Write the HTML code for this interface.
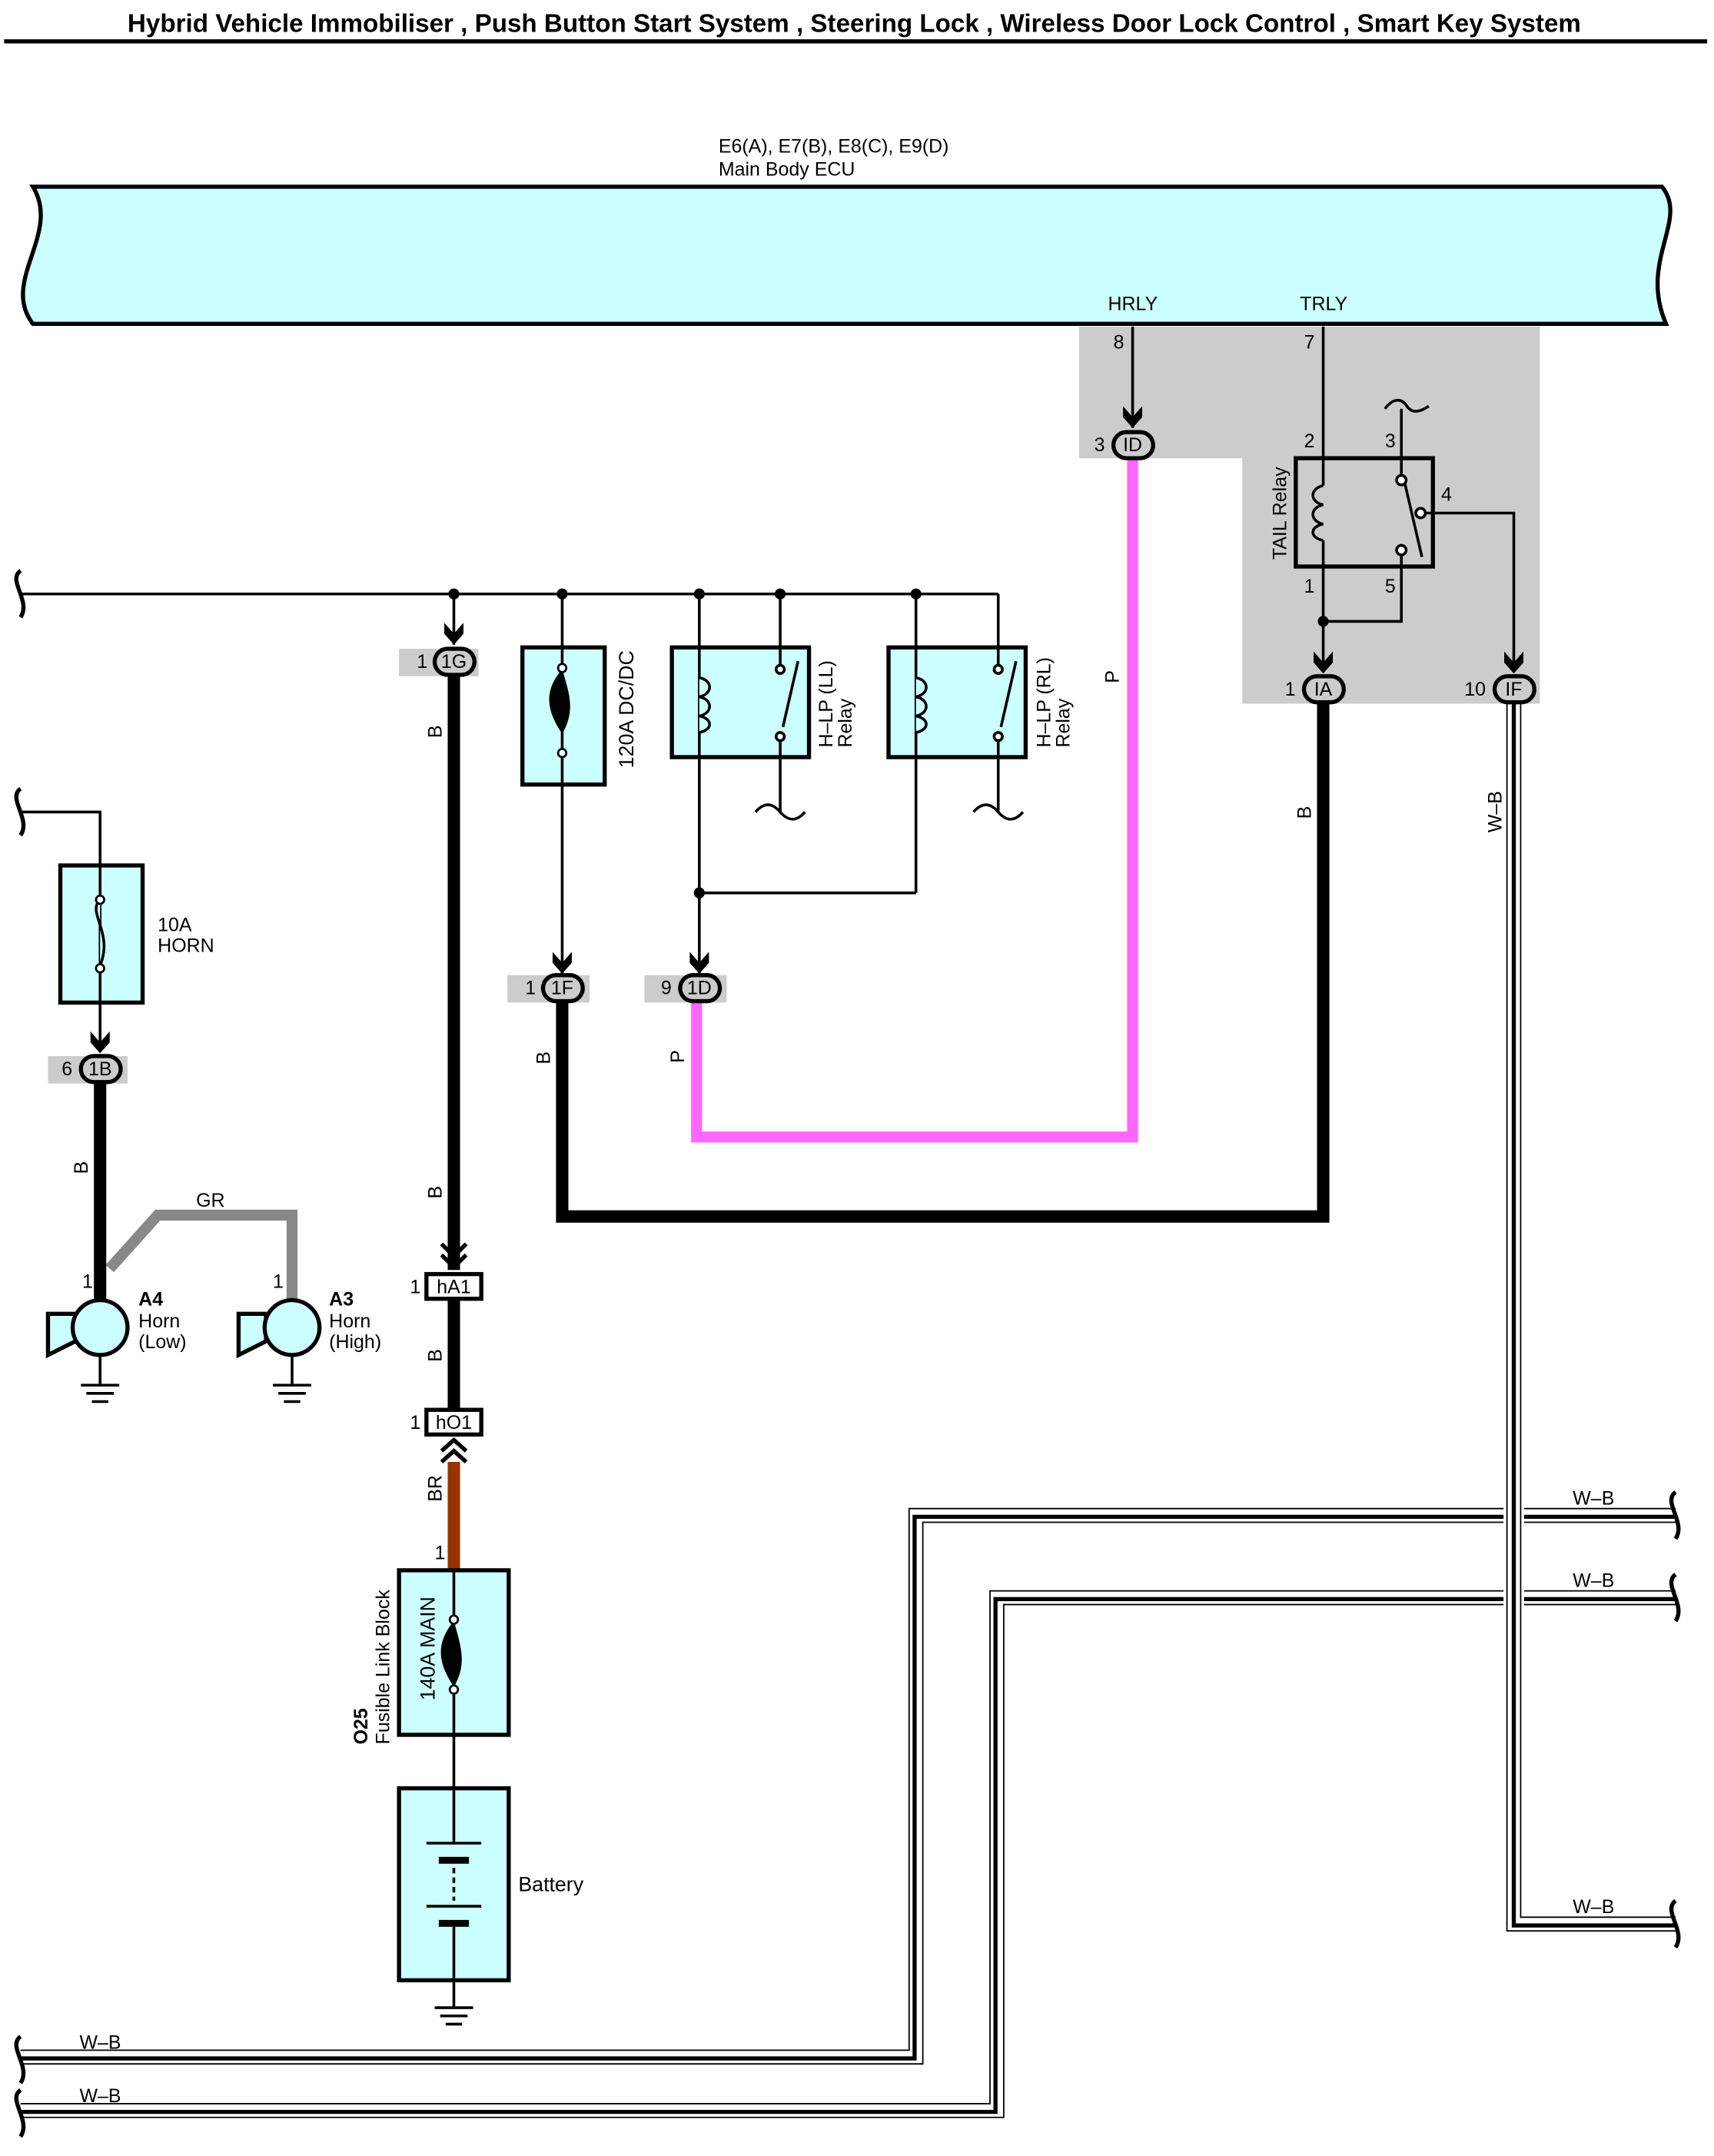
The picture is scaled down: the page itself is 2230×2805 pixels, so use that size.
<!DOCTYPE html>
<html><head><meta charset="utf-8"><style>
html,body{margin:0;padding:0;background:#fff}
svg{display:block}
text{font-family:"Liberation Sans",Arial,sans-serif;font-size:14px;fill:#000}
</style></head><body>
<svg width="2230" height="2805" viewBox="0 0 1250 1572" xmlns="http://www.w3.org/2000/svg">
<defs>
<g id="arr"><path d="M-7,-12 L0,-4 L7,-12 L7,-4 L0,4 L-7,-4 Z" fill="#000"/></g>
</defs>
<text x="623" y="23" text-anchor="middle" style="font-size:18.6px;font-weight:bold">Hybrid Vehicle Immobiliser , Push Button Start System , Steering Lock , Wireless Door Lock Control , Smart Key System</text>
<line x1="3" y1="30" x2="1245" y2="30" stroke="#000" stroke-width="3"/>

<text x="524" y="111">E6(A), E7(B), E8(C), E9(D)</text>
<text x="524" y="128">Main Body ECU</text>
<path d="M24,136 L1212,136 C1232,160 1195,190 1215,236 L24,236 C0,205 45,170 24,136 Z" fill="#ccffff" stroke="#000" stroke-width="3"/>

<!-- gray region -->
<path d="M787,238 L1123,238 L1123,513 L906,513 L906,334 L787,334 Z" fill="#cccccc"/>
<text x="808" y="226">HRLY</text><text x="948" y="226">TRLY</text>
<text x="812" y="254">8</text><text x="951" y="254">7</text>

<!-- W-B wires -->
<g fill="none">
<path d="M15,1500 L668,1500 L668,1105 L1222,1105" stroke="#000" stroke-width="11"/>
<path d="M15,1500 L668,1500 L668,1105 L1222,1105" stroke="#fff" stroke-width="9"/>
<path d="M15,1501 L667,1501 L667,1106 L1222,1106" stroke="#000" stroke-width="3"/>
<path d="M15,1539 L727,1539 L727,1165 L1222,1165" stroke="#000" stroke-width="11"/>
<path d="M15,1539 L727,1539 L727,1165 L1222,1165" stroke="#fff" stroke-width="9"/>
<path d="M15,1540 L726,1540 L726,1166 L1222,1166" stroke="#000" stroke-width="3"/>
<path d="M1104,513 L1104,1403 L1222,1403" stroke="#fff" stroke-width="15"/>
<path d="M1104,513 L1104,1403 L1222,1403" stroke="#000" stroke-width="11"/>
<path d="M1104,513 L1104,1403 L1222,1403" stroke="#fff" stroke-width="9"/>
<path d="M1104,513 L1104,1404 L1222,1404" stroke="#000" stroke-width="3"/>
</g>
<text x="1147" y="1097">W–B</text><text x="1147" y="1157">W–B</text><text x="1147" y="1395">W–B</text>
<text x="58" y="1494">W–B</text><text x="58" y="1533">W–B</text>
<text transform="translate(1095,607) rotate(-90)">W–B</text>
<g fill="none" stroke="#000" stroke-width="3">
<path d="M1222,1088 C1212,1095 1230,1110 1222,1122"/>
<path d="M1222,1148 C1212,1155 1230,1170 1222,1182"/>
<path d="M1222,1386 C1212,1393 1230,1408 1222,1420"/>
<path d="M15,1485 C5,1492 23,1507 15,1519"/>
<path d="M15,1524 C5,1531 23,1546 15,1558"/>
<path d="M15,416 C5,423 23,438 15,450"/>
<path d="M15,575 C5,582 23,597 15,609"/>
</g>

<!-- HRLY pink -->
<line x1="826" y1="238" x2="826" y2="312" stroke="#000" stroke-width="2"/>
<use href="#arr" x="826" y="308"/>
<path d="M826,334 L826,829 L508,829 L508,730" fill="none" stroke="#ff66ff" stroke-width="8"/>
<text transform="translate(816,498) rotate(-90)">P</text>
<text transform="translate(499,775) rotate(-90)">P</text>

<!-- TAIL relay -->
<rect x="945" y="334" width="100" height="79" fill="#cccccc" stroke="#000" stroke-width="3"/>
<g fill="none" stroke="#000" stroke-width="2">
<line x1="965" y1="238" x2="965" y2="354"/>
<path d="M965,354 C955,356 955,366 965,368 C955,370 955,380 965,382 C955,384 955,392 965,394"/>
<line x1="965" y1="394" x2="965" y2="490"/>
<line x1="1022" y1="298" x2="1022" y2="346"/>
<path d="M1010,298 C1016,290 1022,290 1026,296 C1030,302 1036,300 1042,296"/>
<line x1="1024" y1="350" x2="1037" y2="406"/>
<path d="M1036,374 L1104,374 L1104,490"/>
<path d="M1022,401 L1022,453 L965,453"/>
<circle cx="1022" cy="350" r="3.5" fill="#fff"/><circle cx="1036" cy="374" r="3.5" fill="#fff"/><circle cx="1022" cy="401" r="3.5" fill="#fff"/>
</g>
<circle cx="965" cy="453" r="4" fill="#000"/>
<text transform="translate(938,408) rotate(-90)">TAIL Relay</text>
<text x="951" y="326">2</text><text x="1010" y="326">3</text><text x="1051" y="365">4</text>
<text x="951" y="432">1</text><text x="1010" y="432">5</text>
<use href="#arr" x="965" y="487"/><use href="#arr" x="1104" y="487"/>

<!-- thick B IA -->
<path d="M965,513 L965,887 L410,887 L410,730" fill="none" stroke="#000" stroke-width="9"/>
<text transform="translate(956,597) rotate(-90)">B</text>
<text transform="translate(401,776) rotate(-90)">B</text>

<!-- bus -->
<g fill="none" stroke="#000" stroke-width="2">
<line x1="15" y1="433" x2="728" y2="433"/>
<line x1="728" y1="433" x2="728" y2="490"/>
<line x1="410" y1="433" x2="410" y2="710"/>
<line x1="510" y1="433" x2="510" y2="710"/>
<line x1="569" y1="433" x2="569" y2="480"/>
<line x1="668" y1="433" x2="668" y2="651"/>
<line x1="668" y1="651" x2="510" y2="651"/>
<line x1="331" y1="433" x2="331" y2="470"/>
</g>
<g fill="#000"><circle cx="331" cy="433" r="4"/><circle cx="410" cy="433" r="4"/><circle cx="510" cy="433" r="4"/><circle cx="569" cy="433" r="4"/><circle cx="668" cy="433" r="4"/><circle cx="510" cy="651" r="4"/></g>

<!-- fuse 120A -->
<rect x="381" y="472" width="60" height="100" fill="#ccffff" stroke="#000" stroke-width="3"/>
<line x1="410" y1="472" x2="410" y2="572" stroke="#000" stroke-width="2"/>
<path d="M410,488 C395,505 400,520 410,535 C420,518 415,505 410,488 Z" fill="#000"/>
<circle cx="410" cy="487" r="3" fill="#fff" stroke="#000" stroke-width="1.5"/><circle cx="410" cy="549" r="3" fill="#fff" stroke="#000" stroke-width="1.5"/>
<text transform="translate(462,560) rotate(-90)" style="font-size:15px">120A DC/DC</text>

<!-- relays LL RL -->
<g>
<rect x="490" y="472" width="100" height="80" fill="#ccffff" stroke="#000" stroke-width="3"/>
<rect x="648" y="472" width="100" height="80" fill="#ccffff" stroke="#000" stroke-width="3"/>
<g fill="none" stroke="#000" stroke-width="2">
<line x1="510" y1="472" x2="510" y2="552"/>
<path d="M510,494 C520,496 520,506 510,508 C520,510 520,520 510,522 C520,524 520,532 510,534" fill="#ccffff"/>
<line x1="668" y1="472" x2="668" y2="552"/>
<path d="M668,494 C678,496 678,506 668,508 C678,510 678,520 668,522 C678,524 678,532 668,534" fill="#ccffff"/>
<line x1="569" y1="472" x2="569" y2="486"/>
<line x1="582" y1="482" x2="571" y2="530"/>
<line x1="569" y1="538" x2="569" y2="592"/>
<path d="M551,592 C557,585 563,585 569,592 C575,599 581,599 587,592"/>
<line x1="728" y1="472" x2="728" y2="486"/>
<line x1="741" y1="482" x2="730" y2="530"/>
<line x1="728" y1="538" x2="728" y2="592"/>
<path d="M710,592 C716,585 722,585 728,592 C734,599 740,599 746,592"/>
<circle cx="569" cy="488" r="3" fill="#fff"/><circle cx="569" cy="537" r="3" fill="#fff"/>
<circle cx="728" cy="488" r="3" fill="#fff"/><circle cx="728" cy="537" r="3" fill="#fff"/>
</g>
<text transform="translate(607,545) rotate(-90)">H–LP (LL)</text>
<text transform="translate(621,545) rotate(-90)">Relay</text>
<text transform="translate(766,545) rotate(-90)">H–LP (RL)</text>
<text transform="translate(780,545) rotate(-90)">Relay</text>
</g>
<use href="#arr" x="410" y="706"/><use href="#arr" x="510" y="706"/>
<use href="#arr" x="331" y="466"/>

<!-- main thick B -->
<line x1="331" y1="492" x2="331" y2="926" stroke="#000" stroke-width="9"/>
<path d="M322,907 L331,916 L340,907 M322,915 L331,924 L340,915" fill="none" stroke="#000" stroke-width="3"/>
<text transform="translate(322,538) rotate(-90)">B</text>
<text transform="translate(322,874) rotate(-90)">B</text>
<line x1="331" y1="947" x2="331" y2="1028" stroke="#000" stroke-width="9"/>
<text transform="translate(322,993) rotate(-90)">B</text>
<rect x="311" y="929" width="40" height="18" fill="#fff" stroke="#000" stroke-width="3"/>
<text x="331" y="943" text-anchor="middle">hA1</text><text x="299" y="943">1</text>
<rect x="311" y="1028" width="40" height="18" fill="#fff" stroke="#000" stroke-width="3"/>
<text x="331" y="1042" text-anchor="middle">hO1</text><text x="299" y="1042">1</text>
<path d="M322,1058 L331,1050 L340,1058 M322,1066 L331,1058 L340,1066" fill="none" stroke="#000" stroke-width="3"/>
<line x1="331" y1="1066" x2="331" y2="1145" stroke="#993300" stroke-width="9"/>
<text transform="translate(322,1095) rotate(-90)">BR</text>
<text x="317" y="1137">1</text>

<!-- fusible link -->
<rect x="291" y="1145" width="80" height="120" fill="#ccffff" stroke="#000" stroke-width="3"/>
<line x1="331" y1="1145" x2="331" y2="1304" stroke="#000" stroke-width="2"/>
<path d="M331,1182 C316,1200 321,1215 331,1230 C341,1213 336,1200 331,1182 Z" fill="#000"/>
<circle cx="331" cy="1181" r="3" fill="#fff" stroke="#000" stroke-width="1.5"/><circle cx="331" cy="1232" r="3" fill="#fff" stroke="#000" stroke-width="1.5"/>
<text transform="translate(317,1240) rotate(-90)" style="font-size:15px">140A MAIN</text>
<text transform="translate(268,1272) rotate(-90)" style="font-weight:bold">O25</text>
<text transform="translate(284,1272) rotate(-90)">Fusible Link Block</text>

<!-- battery -->
<rect x="291" y="1304" width="80" height="140" fill="#ccffff" stroke="#000" stroke-width="3"/>
<line x1="331" y1="1304" x2="331" y2="1344" stroke="#000" stroke-width="2"/>
<line x1="311" y1="1344" x2="351" y2="1344" stroke="#000" stroke-width="2"/>
<rect x="320" y="1354" width="22" height="5" fill="#000"/>
<line x1="331" y1="1362" x2="331" y2="1386" stroke="#000" stroke-width="2" stroke-dasharray="4,3"/>
<line x1="311" y1="1390" x2="351" y2="1390" stroke="#000" stroke-width="2"/>
<rect x="320" y="1400" width="22" height="5" fill="#000"/>
<line x1="331" y1="1405" x2="331" y2="1444" stroke="#000" stroke-width="2"/>
<text x="378" y="1379" style="font-size:15px">Battery</text>
<g stroke="#000" stroke-width="2"><line x1="331" y1="1444" x2="331" y2="1464"/><line x1="317" y1="1464" x2="345" y2="1464"/><line x1="321" y1="1470" x2="341" y2="1470"/><line x1="325" y1="1476" x2="337" y2="1476"/></g>

<!-- horn side -->
<path d="M15,592 L73,592 L73,760" fill="none" stroke="#000" stroke-width="2"/>
<rect x="44" y="631" width="60" height="100" fill="#ccffff" stroke="#000" stroke-width="3"/>
<line x1="73" y1="631" x2="73" y2="731" stroke="#000" stroke-width="2"/>
<path d="M73,656 C63,665 83,680 73,704" fill="#ccffff" stroke="#000" stroke-width="2"/>
<circle cx="73" cy="656" r="3" fill="#fff" stroke="#000" stroke-width="1.5"/><circle cx="73" cy="706" r="3" fill="#fff" stroke="#000" stroke-width="1.5"/>
<text x="115" y="679">10A</text><text x="115" y="694">HORN</text>
<use href="#arr" x="73" y="764"/>
<path d="M80,925 L115,886 L213,886 L213,948" fill="none" stroke="#888" stroke-width="8"/>
<text x="143" y="880">GR</text>
<line x1="73" y1="790" x2="73" y2="948" stroke="#000" stroke-width="9"/>
<text transform="translate(64,856) rotate(-90)">B</text>
<text x="60" y="939">1</text><text x="199" y="939">1</text>
<g>
<path d="M35,958 L55,958 L55,978 L35,988 Z" fill="#ccffff" stroke="#000" stroke-width="3"/>
<circle cx="73" cy="968" r="20" fill="#ccffff" stroke="#000" stroke-width="3"/>
<path d="M174,958 L194,958 L194,978 L174,988 Z" fill="#ccffff" stroke="#000" stroke-width="3"/>
<circle cx="213" cy="968" r="20" fill="#ccffff" stroke="#000" stroke-width="3"/>
</g>
<g stroke="#000" stroke-width="2"><line x1="73" y1="988" x2="73" y2="1010"/><line x1="59" y1="1010" x2="87" y2="1010"/><line x1="63" y1="1016" x2="83" y2="1016"/><line x1="67" y1="1022" x2="79" y2="1022"/>
<line x1="213" y1="988" x2="213" y2="1010"/><line x1="199" y1="1010" x2="227" y2="1010"/><line x1="203" y1="1016" x2="223" y2="1016"/><line x1="207" y1="1022" x2="219" y2="1022"/></g>
<text x="101" y="952" style="font-weight:bold">A4</text><text x="101" y="968">Horn</text><text x="101" y="983">(Low)</text>
<text x="240" y="952" style="font-weight:bold">A3</text><text x="240" y="968">Horn</text><text x="240" y="983">(High)</text>

<!-- connectors -->
<g stroke="#000" stroke-width="3">
<rect x="35" y="770" width="58" height="20" fill="#cccccc" stroke="none"/>
<rect x="291" y="473" width="58" height="20" fill="#cccccc" stroke="none"/>
<rect x="370" y="711" width="60" height="20" fill="#cccccc" stroke="none"/>
<rect x="470" y="711" width="60" height="20" fill="#cccccc" stroke="none"/>
<rect x="59" y="770" width="29" height="19" rx="9.5" fill="#cccccc"/>
<rect x="317" y="473" width="29" height="19" rx="9.5" fill="#cccccc"/>
<rect x="396" y="711" width="29" height="19" rx="9.5" fill="#cccccc"/>
<rect x="496" y="711" width="29" height="19" rx="9.5" fill="#cccccc"/>
<rect x="812" y="315" width="29" height="19" rx="9.5" fill="#cccccc"/>
<rect x="951" y="493" width="29" height="19" rx="9.5" fill="#cccccc"/>
<rect x="1090" y="493" width="29" height="19" rx="9.5" fill="#cccccc"/>
</g>
<text x="73" y="784" text-anchor="middle">1B</text><text x="45" y="784">6</text>
<text x="331" y="487" text-anchor="middle">1G</text><text x="304" y="487">1</text>
<text x="410" y="725" text-anchor="middle">1F</text><text x="383" y="725">1</text>
<text x="510" y="725" text-anchor="middle">1D</text><text x="482" y="725">9</text>
<text x="826" y="329" text-anchor="middle">ID</text><text x="798" y="329">3</text>
<text x="965" y="507" text-anchor="middle">IA</text><text x="937" y="507">1</text>
<text x="1104" y="507" text-anchor="middle">IF</text><text x="1068" y="507">10</text>
</svg>
</body></html>
